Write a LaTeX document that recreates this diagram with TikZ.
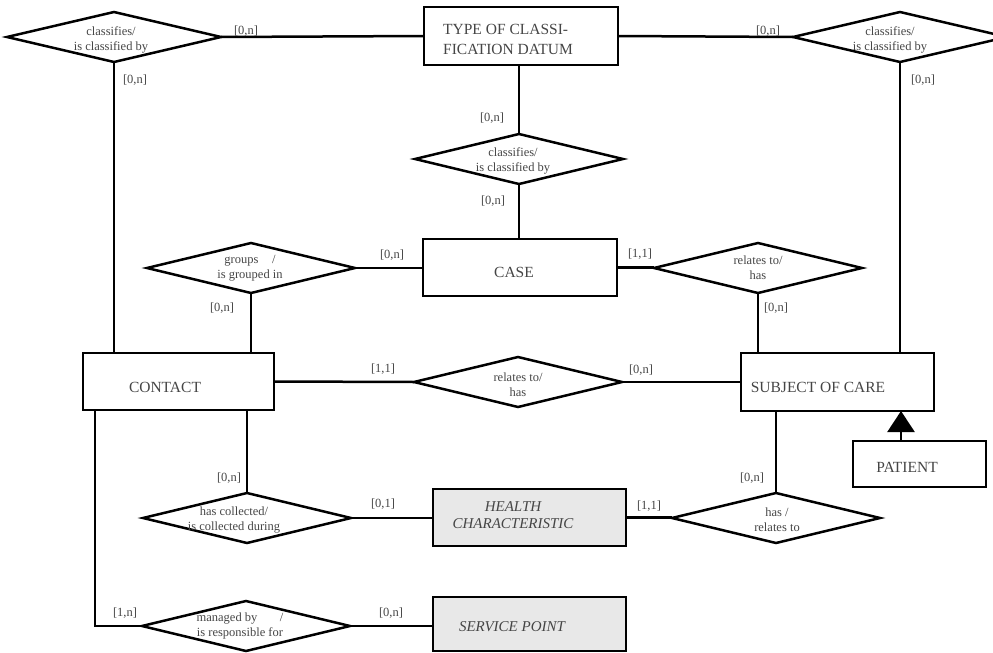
\documentclass[tikz,border=0pt]{standalone}
\usepackage{fontspec}
\setmainfont{Liberation Serif}
\usetikzlibrary{shapes.geometric,arrows.meta,calc}
\definecolor{ink}{HTML}{454545}
\definecolor{shade}{HTML}{E8E8E8}
\begin{document}
\begin{tikzpicture}[x=1pt,y=-1pt,line width=2.5pt,
  ent/.style={draw,rectangle,inner sep=0pt,outer sep=0pt},
  weak/.style={ent,fill=shade},
  rel/.style={draw,diamond,inner sep=0pt,outer sep=0pt,minimum width=208pt,minimum height=50pt},
  etxt/.style={text=ink,font=\fontsize{15.5}{19}\selectfont,inner sep=0pt},
  rtxt/.style={text=ink,font=\fontsize{12.5}{15}\selectfont,align=center,inner sep=0pt},
  lab/.style={text=ink,font=\fontsize{12.5}{14}\selectfont,inner sep=0pt}]
\useasboundingbox (0,0) rectangle (993,653);
\clip (0,0) rectangle (993,653);

% entities
\node[ent,minimum width=194pt,minimum height=58pt] (type) at (521,36) {};
\node[ent,minimum width=194pt,minimum height=57pt] (case) at (520,267.5) {};
\node[ent,minimum width=191pt,minimum height=57pt] (contact) at (178.5,381.5) {};
\node[ent,minimum width=193pt,minimum height=58pt] (soc) at (837.5,382) {};
\node[ent,minimum width=133pt,minimum height=46pt] (patient) at (919.5,464) {};
\node[weak,minimum width=193pt,minimum height=57pt] (hc) at (529.5,517.5) {};
\node[weak,minimum width=193pt,minimum height=54pt] (sp) at (529.5,624) {};

% relationships
\node[rel,minimum width=214pt] (d1) at (114,37) {};
\node[rel,minimum width=214pt] (d2) at (900,37) {};
\node[rel] (d3) at (519,159) {};
\node[rel] (d4) at (251,268) {};
\node[rel] (d5) at (758,268) {};
\node[rel] (d6) at (518,382) {};
\node[rel] (d7) at (247,518) {};
\node[rel] (d8) at (246,626) {};
\node[rel] (d9) at (776,518) {};

% entity names
\node[etxt,align=left] (type-t) at (508,39) {TYPE OF CLASSI-\\[1pt]FICATION DATUM};
\node[etxt] (case-t) at (514,272) {CASE};
\node[etxt] (contact-t) at (165,387) {CONTACT};
\node[etxt] (soc-t) at (818,387) {SUBJECT OF CARE};
\node[etxt] (patient-t) at (907,467) {PATIENT};
\node[etxt,align=center,font=\fontsize{15}{17}\itshape] (hc-t) at (513,515.5) {HEALTH\\CHARACTERISTIC};
\node[etxt,font=\fontsize{15}{17}\itshape] (sp-t) at (512,627) {SERVICE POINT};

% relationship names
\node[rtxt] (d1-t) at (111,40) {classifies/\\is classified by};
\node[rtxt] (d2-t) at (890,40) {classifies/\\is classified by};
\node[rtxt] (d3-t) at (513,161) {classifies/\\is classified by};
\node[rtxt] (d4-t) at (250,268) {groups\hspace{1.1em}/\\is grouped in};
\node[rtxt] (d5-t) at (758,268) {relates to/\\has};
\node[rtxt] (d6-t) at (518,385) {relates to/\\has};
\node[rtxt] (d7-t) at (234,520) {has collected/\\is collected during};
\node[rtxt] (d8-t) at (240,626) {managed by\hspace{1.8em}/\\is responsible for};
\node[rtxt] (d9-t) at (777,520) {has /\\relates to};

% connectors
\draw (d1.east) -- (type.west);
\draw (type.east) -- (d2.west);
\draw (d1.south) -- (d1.south |- contact.north);
\draw (d2.south) -- (d2.south |- soc.north);
\draw (d3.north |- type.south) -- (d3.north);
\draw (d3.south) -- (d3.south |- case.north);
\draw (d4.east) -- (d4.east -| case.west);
\draw (case.east) -- (case.east -| d5.west);
\draw (d4.south) -- (d4.south |- contact.north);
\draw (d5.south) -- (d5.south |- soc.north);
\draw (contact.east) -- (d6.west);
\draw (d6.east) -- (soc.west);
\draw (d7.north |- contact.south) -- (d7.north);
\draw (d7.east) -- (d7.east -| hc.west);
\draw (hc.east) -- (hc.east -| d9.west);
\draw (d9.north |- soc.south) -- (d9.north);
\coordinate (cl) at ($(contact.south west)+(12,0)$);
\draw (cl) |- (d8.west);
\draw (d8.east) -- (d8.east -| sp.west);
\coordinate (isa) at ($(patient.north west)+(48,0)$);
\draw[-{Triangle[length=21pt,width=27pt]}] (isa) -- (isa |- soc.south);

% cardinalities
\node[lab] (c1) at (246,31) {[0,n]};
\node[lab] (c2) at (135,80) {[0,n]};
\node[lab] (c3) at (768,31) {[0,n]};
\node[lab] (c4) at (923,80) {[0,n]};
\node[lab] (c5) at (492,118) {[0,n]};
\node[lab] (c6) at (493,201) {[0,n]};
\node[lab] (c7) at (392,255) {[0,n]};
\node[lab] (c8) at (222,308) {[0,n]};
\node[lab] (c9) at (640,254) {[1,1]};
\node[lab] (c10) at (776,308) {[0,n]};
\node[lab] (c11) at (383,369) {[1,1]};
\node[lab] (c12) at (641,370) {[0,n]};
\node[lab] (c13) at (229,478) {[0,n]};
\node[lab] (c14) at (383,504) {[0,1]};
\node[lab] (c15) at (649,506) {[1,1]};
\node[lab] (c16) at (752,478) {[0,n]};
\node[lab] (c17) at (125,613) {[1,n]};
\node[lab] (c18) at (391,613) {[0,n]};
\end{tikzpicture}
\end{document}
